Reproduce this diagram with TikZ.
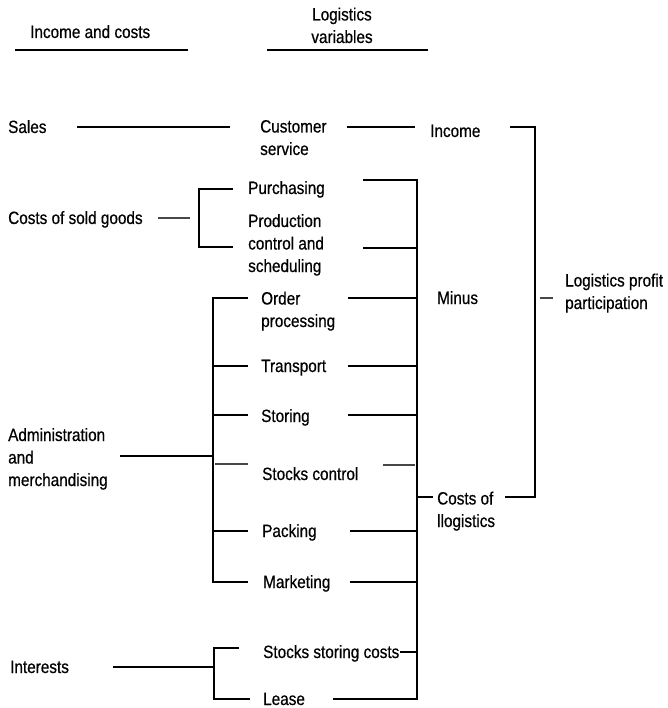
\documentclass[tikz,border=0pt]{standalone}
\usepackage{fontspec}
\setmainfont{Liberation Sans}[FakeStretch=0.86,FakeBold=0.6]
\begin{document}
\begin{tikzpicture}[x=1pt,y=-1pt,
  lbl/.style={inner sep=0pt,anchor=base west,align=left,font=\fontsize{17.8}{22.5}\selectfont},
  ln/.style={line width=1.3pt},
  gln/.style={line width=2.2pt,black!72}]
\useasboundingbox (0,0) rectangle (667,708);
% headers
\node[lbl] (hic) at (30,38) {Income and costs};
\node[lbl,anchor=base,align=center] (hlv) at (342,43) {Logistics\\variables};
\coordinate (u1a) at (15,50); \coordinate (u1b) at (188,50);
\coordinate (u2a) at (267,50); \coordinate (u2b) at (428,50);
\draw[ln] (u1a) -- (u1b);
\draw[ln] (u2a) -- (u2b);
% left column
\node[lbl] (sales) at (8,133) {Sales};
\node[lbl] (csg) at (8,224) {Costs of sold goods};
\node[lbl] (adm) at (8,486) {Administration\\and\\merchandising};
\node[lbl] (int) at (10,673) {Interests};
% middle column
\node[lbl] (cs) at (260,155) {Customer\\service};
\node[lbl] (pur) at (248,194) {Purchasing};
\node[lbl] (pro) at (248,272) {Production\\control and\\scheduling};
\node[lbl] (ord) at (261,327) {Order\\processing};
\node[lbl] (tra) at (261,372) {Transport};
\node[lbl] (sto) at (261,422) {Storing};
\node[lbl] (stc) at (262,480) {Stocks control};
\node[lbl] (pac) at (262,537) {Packing};
\node[lbl] (mar) at (263,588) {Marketing};
\node[lbl] (ssc) at (263,658) {Stocks storing costs};
\node[lbl] (lea) at (263,705) {Lease};
% right columns
\node[lbl] (inc) at (430,137) {Income};
\node[lbl] (min) at (437,304) {Minus};
\node[lbl] (col) at (437,527) {Costs of\\llogistics};
\node[lbl] (lpp) at (565,309) {Logistics profit\\participation};
% coordinates
\coordinate (s1) at (77,127); \coordinate (s2) at (230,127);
\coordinate (c1) at (347,127); \coordinate (c2) at (415,127);
\coordinate (i1) at (510,127); \coordinate (i2) at (535,127);
\coordinate (i3) at (535,497); \coordinate (i4) at (505,497);
\coordinate (p1) at (540,298); \coordinate (p2) at (553,298);
\coordinate (g1) at (158,218); \coordinate (g2) at (190,218);
\coordinate (gb1) at (233,189); \coordinate (gb2) at (199,189);
\coordinate (gb3) at (199,247); \coordinate (gb4) at (233,247);
\coordinate (rtop) at (417,180); \coordinate (rbot) at (417,699);
% right bracket
\draw[ln] (363,180) -- (rtop) -- (rbot) -- (333,699);
\draw[ln] (363,248) -- (417,248);
\draw[ln] (348,298) -- (417,298);
\draw[ln] (348,366) -- (417,366);
\draw[ln] (348,415) -- (417,415);
\draw[gln] (383,465) -- (415,465);
\draw[ln] (350,531) -- (417,531);
\draw[ln] (350,582) -- (417,582);
\draw[ln] (400,652) -- (417,652);
\draw[ln] (417,497) -- (433,497);
% top links
\draw[ln] (s1) -- (s2);
\draw[ln] (c1) -- (c2);
\draw[ln] (i1) -- (i2) -- (i3) -- (i4);
\draw[gln] (p1) -- (p2);
% costs of sold goods
\draw[gln] (g1) -- (g2);
\draw[ln] (gb1) -- (gb2) -- (gb3) -- (gb4);
% admin bracket
\draw[ln] (248,298) -- (213,298) -- (213,582) -- (248,582);
\draw[ln] (213,366) -- (248,366);
\draw[ln] (213,415) -- (248,415);
\draw[gln] (215,464) -- (248,464);
\draw[ln] (213,531) -- (248,531);
\draw[ln] (120,456) -- (213,456);
% interests
\draw[ln] (113,667) -- (214,667);
\draw[ln] (239,648) -- (214,648) -- (214,699) -- (250,699);
\end{tikzpicture}
\end{document}
